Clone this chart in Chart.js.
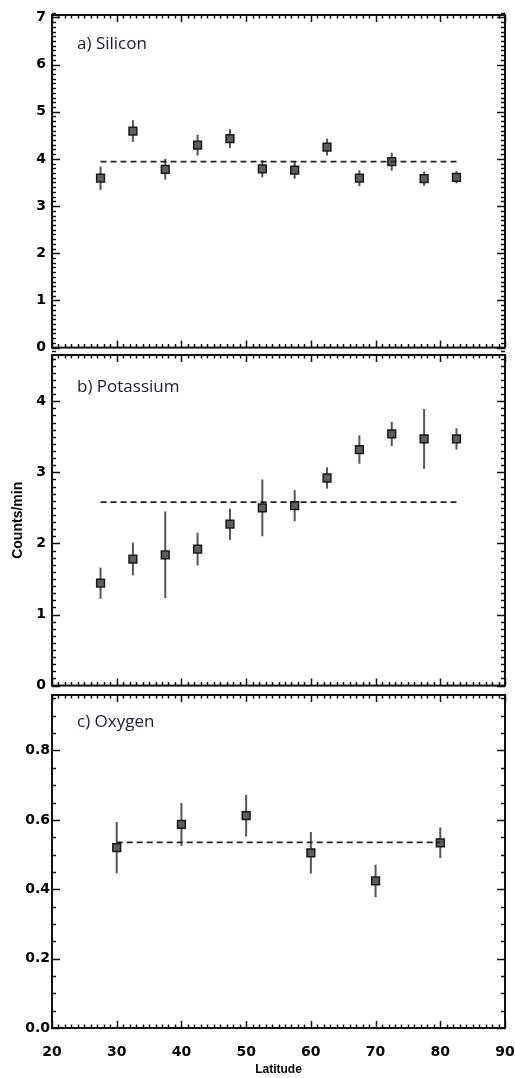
<!DOCTYPE html>
<html>
<head>
<meta charset="utf-8">
<script src="https://cdn.jsdelivr.net/npm/chart.js@4.4.1/dist/chart.umd.min.js"></script>
<style>
  body { margin: 0; background: #fff; }
  #wrap { position: relative; width: 515px; height: 1078px; }
  canvas { position: absolute; left: 0; }
</style>
</head>
<body>
<div id="wrap">
  <canvas id="cA" width="515" height="362" style="top:0px"></canvas>
  <canvas id="cB" width="515" height="360" style="top:340px"></canvas>
  <canvas id="cC" width="515" height="398" style="top:680px"></canvas>
</div>
<script>
// ------- DATA -------
const siliconLat = [27.5, 32.5, 37.5, 42.5, 47.5, 52.5, 57.5, 62.5, 67.5, 72.5, 77.5, 82.5];
const siliconVals = [3.59, 4.59, 3.78, 4.29, 4.43, 3.79, 3.76, 4.25, 3.59, 3.94, 3.58, 3.61];
const siliconErr = [0.25, 0.23, 0.22, 0.22, 0.20, 0.18, 0.18, 0.18, 0.17, 0.19, 0.15, 0.13];
const siliconMean = 3.94;

const potassiumLat = [27.5, 32.5, 37.5, 42.5, 47.5, 52.5, 57.5, 62.5, 67.5, 72.5, 77.5, 82.5];
const potassiumVals = [1.44, 1.78, 1.84, 1.92, 2.27, 2.50, 2.53, 2.92, 3.32, 3.54, 3.47, 3.47];
const potassiumErr = [0.22, 0.23, 0.61, 0.23, 0.22, 0.40, 0.22, 0.15, 0.20, 0.17, 0.42, 0.15];
const potassiumMean = 2.58;

const oxygenLat = [30, 40, 50, 60, 70, 80];
const oxygenVals = [0.52, 0.587, 0.612, 0.505, 0.424, 0.534];
const oxygenErr = [0.074, 0.062, 0.060, 0.060, 0.047, 0.044];
const oxygenMean = 0.535;

const latTicks = [20, 30, 40, 50, 60, 70, 80, 90];

// ------- FRAME, TICKS, ERROR BARS, PANEL LABEL -------
const panelPlugin = {
    id: "panel",
    beforeDatasetsDraw(chart) {
        let p = chart.options.plugins.panel;
        let ctx = chart.ctx, x = chart.scales.x, y = chart.scales.y;
        ctx.save();
        ctx.strokeStyle = "#555";
        ctx.lineWidth = 2;
        p.lat.forEach((lat, i) => {
            let px = x.getPixelForValue(lat);
            ctx.beginPath();
            ctx.moveTo(px, y.getPixelForValue(p.vals[i] - p.err[i]));
            ctx.lineTo(px, y.getPixelForValue(p.vals[i] + p.err[i]));
            ctx.stroke();
        });
        ctx.restore();
    },
    afterDraw(chart) {
        let p = chart.options.plugins.panel;
        let ctx = chart.ctx, x = chart.scales.x, y = chart.scales.y;
        let a = chart.chartArea;
        ctx.save();
        ctx.strokeStyle = "#111";
        ctx.lineWidth = 1.5;

        // y ticks, both sides, inward
        let n = Math.round(y.max / p.minor);
        for (let k = 0; k <= n; k++) {
            let v = k * p.minor;
            let py = Math.round(y.getPixelForValue(v)) + 0.5;
            let len = (k % p.perMajor === 0) ? 8 : 4;
            ctx.beginPath();
            ctx.moveTo(a.left, py); ctx.lineTo(a.left + len, py);
            ctx.moveTo(a.right, py); ctx.lineTo(a.right - len, py);
            ctx.stroke();
        }
        // x ticks, top and bottom, inward
        for (let d = 20; d <= 90; d++) {
            let px = Math.round(x.getPixelForValue(d)) + 0.5;
            let len = (d % 10 === 0) ? 7 : 3.5;
            ctx.beginPath();
            ctx.moveTo(px, a.top); ctx.lineTo(px, a.top + len);
            ctx.moveTo(px, a.bottom); ctx.lineTo(px, a.bottom - len);
            ctx.stroke();
        }
        ctx.lineWidth = 2;
        ctx.strokeRect(a.left, a.top, a.right - a.left, a.bottom - a.top);

        ctx.fillStyle = "#1a1a33";
        ctx.font = '17px "Open Sans"';
        ctx.textBaseline = "middle";
        ctx.fillText(p.label, a.left + 25, a.top + p.labelDy);
        ctx.restore();
    }
};

function makePanel(id, lat, vals, err, mean, opts) {
    let ctx = document.getElementById(id).getContext("2d");
    let points = lat.map((v, i) => ({ x: v, y: vals[i] }));
    let meanLine = [{ x: lat[0], y: mean }, { x: lat[lat.length - 1], y: mean }];

    return new Chart(ctx, {
        type: "scatter",
        data: {
            datasets: [{
                type: "line",
                data: meanLine,
                borderColor: "#222",
                borderWidth: 1.8,
                borderDash: [6, 4],
                pointRadius: 0,
                fill: false
            }, {
                data: points,
                pointStyle: "rect",
                pointRadius: 5.5,
                backgroundColor: "#5e5e5e",
                borderColor: "#1a1a1a",
                borderWidth: 1.5
            }, {
                data: points,
                pointStyle: "circle",
                pointRadius: 1.6,
                backgroundColor: "rgba(0,0,0,0)",
                borderColor: "#a8a8a8",
                borderWidth: 1
            }]
        },
        options: {
            responsive: false,
            animation: false,
            events: [],
            layout: { padding: opts.padding },
            plugins: {
                legend: { display: false },
                tooltip: { enabled: false },
                panel: {
                    lat: lat, vals: vals, err: err,
                    minor: opts.minor, perMajor: opts.perMajor,
                    label: opts.label, labelDy: opts.labelDy
                }
            },
            scales: {
                x: {
                    type: "linear",
                    min: 20, max: 90,
                    display: opts.showX,
                    grid: { display: false, drawTicks: false },
                    border: { display: false },
                    afterBuildTicks: s => { s.ticks = latTicks.map(v => ({ value: v })); },
                    afterFit: s => {
                        if (opts.showX) s.height = 50;
                        s.paddingLeft = 0;
                        s.paddingRight = 0;
                    },
                    ticks: {
                        padding: 16,
                        color: "#000",
                        font: { family: "DejaVu Sans", weight: "bold", size: 14 },
                        maxRotation: 0,
                        autoSkip: false
                    },
                    title: {
                        display: opts.showX,
                        text: "Latitude",
                        color: "#000",
                        font: { family: "Liberation Sans", weight: "bold", size: 12 },
                        padding: { top: 0, bottom: 1 }
                    }
                },
                y: {
                    min: 0, max: opts.ymax,
                    grid: { display: false, drawTicks: false },
                    border: { display: false },
                    afterFit: s => { s.width = 52; },
                    ticks: {
                        stepSize: opts.step,
                        includeBounds: false,
                        padding: opts.tickPad,
                        color: "#000",
                        font: { family: "DejaVu Sans", weight: "bold", size: 14 },
                        callback: v => v.toFixed(opts.decimals)
                    },
                    title: {
                        display: !!opts.yTitle,
                        text: opts.yTitle || "",
                        color: "#000",
                        font: { family: "Liberation Sans", weight: "bold", size: 14 },
                        padding: { top: 10, bottom: 0 }
                    }
                }
            }
        },
        plugins: [panelPlugin]
    });
}

makePanel("cA", siliconLat, siliconVals, siliconErr, siliconMean, {
    padding: { top: 15, right: 10, bottom: 13, left: 0 },
    ymax: 7.05, step: 1, decimals: 0, minor: 0.1, perMajor: 10, tickPad: 6,
    showX: false, label: "a) Silicon", labelDy: 29
});

makePanel("cB", potassiumLat, potassiumVals, potassiumErr, potassiumMean, {
    padding: { top: 15, right: 10, bottom: 12, left: 0 },
    ymax: 4.65, step: 1, decimals: 0, minor: 0.1, perMajor: 10, tickPad: 6,
    showX: false, yTitle: "Counts/min", label: "b) Potassium", labelDy: 32
});

makePanel("cC", oxygenLat, oxygenVals, oxygenErr, oxygenMean, {
    padding: { top: 15, right: 10, bottom: 0, left: 0 },
    ymax: 0.96, step: 0.2, decimals: 1, minor: 0.05, perMajor: 4, tickPad: 2,
    showX: true, label: "c) Oxygen", labelDy: 27
});
</script>
</body>
</html>
